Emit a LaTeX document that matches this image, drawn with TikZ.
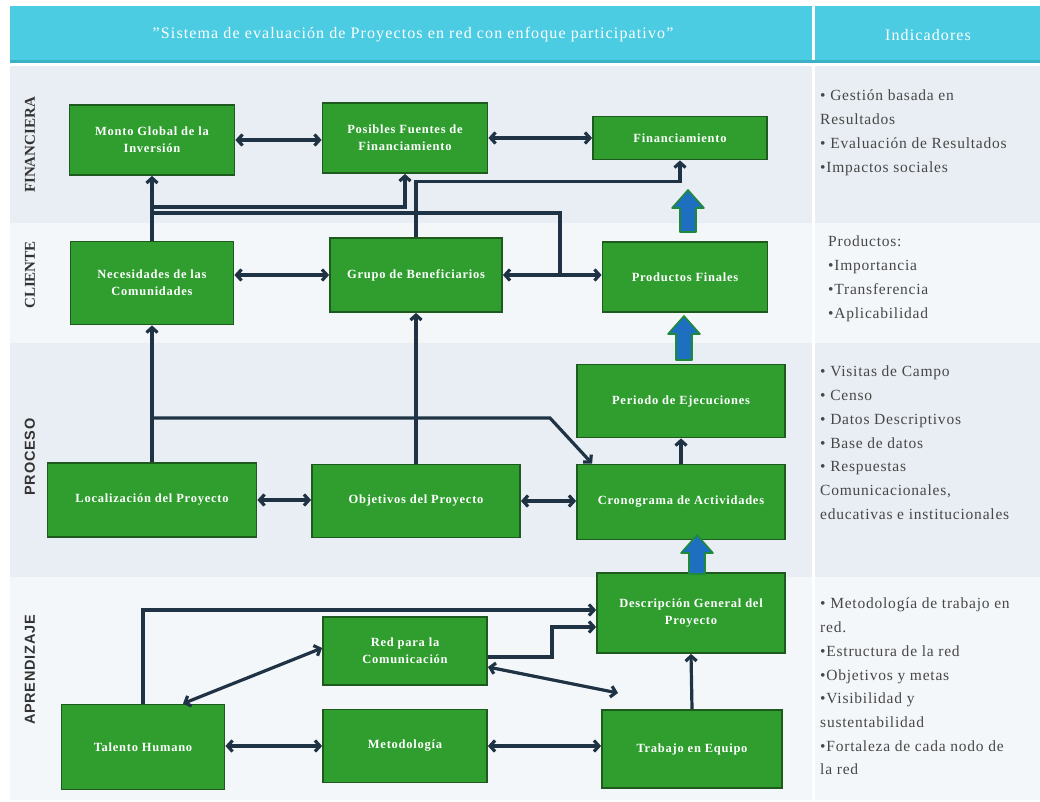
\documentclass[tikz,border=0pt]{standalone}
\usepackage{fontspec}
\setmainfont{Liberation Serif}
\setsansfont{Liberation Sans}
\usetikzlibrary{positioning,arrows.meta,calc}
\definecolor{hdr}{HTML}{4BCCE2}
\definecolor{hdredge}{HTML}{3AAFC5}
\definecolor{banda}{HTML}{E9EEF4}
\definecolor{bandb}{HTML}{F4F7FA}
\definecolor{boxgreen}{HTML}{2F9E2F}
\definecolor{boxedge}{HTML}{1E5A1E}
\definecolor{wirec}{HTML}{1F3344}
\definecolor{fatblue}{HTML}{1F6FC0}
\definecolor{fatedge}{HTML}{1E8A3A}
\definecolor{indtext}{HTML}{474747}
\tikzset{
    block/.style = {
        draw=boxedge,
        fill=boxgreen,
        shape=rectangle,
        line width=1.8pt,
        text=white,
        align=center,
        inner sep=2pt,
        font=\bfseries\fontsize{12.5}{17}\selectfont\addfontfeature{LetterSpace=6}
    },
    wire/.style = {
        draw=wirec,
        line width=3.2pt
    },
    tag/.style = {
        rotate=90,
        text=black!80
    },
    ind/.style = {
        anchor=north west,
        align=left,
        text=indtext,
        inner sep=0pt,
        font=\fontsize{15.5}{23.7}\selectfont\addfontfeature{LetterSpace=5}
    },
    fat/.style = {
        draw=fatedge,
        fill=fatblue,
        line width=1.6pt,
        line join=round
    },
    >={Straight Barb[length=5pt,width=11pt]},
}

\begin{document}
\begin{tikzpicture}[x=1pt,y=-1pt]
                \useasboundingbox (0,0) rectangle (1040,802);
                % bands
                \fill[hdr] (10,6) rectangle (812,63);
                \fill[hdr] (815,6) rectangle (1040,63);
                \fill[hdredge] (10,60) rectangle (1040,63);
                \fill[banda] (10,66) rectangle (812,223);
                \fill[banda] (815,66) rectangle (1040,223);
                \fill[bandb] (10,223) rectangle (812,343);
                \fill[bandb] (815,223) rectangle (1040,343);
                \fill[banda] (10,343) rectangle (812,577);
                \fill[banda] (815,343) rectangle (1040,577);
                \fill[bandb] (10,577) rectangle (812,800);
                \fill[bandb] (815,577) rectangle (1040,800);

                \node[text=white, font=\fontsize{16}{18}\selectfont\addfontfeature{LetterSpace=7}] (title) at (413,35) {"Sistema de evaluación de Proyectos en red con enfoque participativo"};
                \node[text=white, font=\fontsize{16}{18}\selectfont\addfontfeature{LetterSpace=7}] (indic) at (928,35) {Indicadores};

                \node[tag, font=\bfseries\fontsize{15}{16}\selectfont] (lfin) at (30,145) {FINANCIERA};
                \node[tag, font=\bfseries\fontsize{15}{16}\selectfont] (lcli) at (30,275) {CLIENTE};
                \node[tag, font=\sffamily\bfseries\fontsize{14.5}{16}\selectfont\addfontfeature{LetterSpace=5}] (lpro) at (30,457) {PROCESO};
                \node[tag, font=\sffamily\bfseries\fontsize{14.5}{16}\selectfont\addfontfeature{LetterSpace=5}] (lapr) at (30,670) {APRENDIZAJE};

                % boxes
                \node[block, minimum width=165, minimum height=70] (monto) at (152,140) {Monto Global de la\\Inversión};
                \node[block, minimum width=165, minimum height=70] (fuentes) at (405,138) {Posibles Fuentes de\\Financiamiento};
                \node[block, minimum width=174, minimum height=43] (finan) at (680,138) {Financiamiento};
                \node[block, minimum width=163, minimum height=83] (neces) at (152,283) {Necesidades de las\\Comunidades};
                \node[block, minimum width=172, minimum height=74] (grupo) at (416,275) {Grupo de Beneficiarios};
                \node[block, minimum width=165, minimum height=70] (prod) at (685,277) {Productos Finales};
                \node[block, minimum width=208, minimum height=73] (periodo) at (681,401) {Periodo de Ejecuciones};
                \node[block, minimum width=209, minimum height=74] (local) at (152,500) {Localización del Proyecto};
                \node[block, minimum width=208, minimum height=73] (objet) at (416,501) {Objetivos del Proyecto};
                \node[block, minimum width=208, minimum height=75] (crono) at (681,502) {Cronograma de Actividades};
                \node[block, minimum width=188, minimum height=80] (descr) at (691,613) {Descripción General del\\Proyecto};
                \node[block, minimum width=164, minimum height=68] (redcom) at (405,651) {Red para la\\Comunicación};
                \node[block, minimum width=163, minimum height=85] (talento) at (143,747) {Talento Humano};
                \node[block, minimum width=164, minimum height=73] (metod) at (405,746) {Metodología};
                \node[block, minimum width=180, minimum height=78] (trabajo) at (692,749) {Trabajo en Equipo};

                % junctions
                \coordinate (jf1) at (152,207);
                \coordinate (jf2) at (152,213);
                \coordinate (jp) at (560,275);
                \coordinate (jl) at (152,418);
                \coordinate (jb) at (550,418);
                \coordinate (jd) at (552,640);
                \coordinate (tq) at (618,693);

                % financiera / cliente
                \path[wire, <->] (monto.east) -- (fuentes.west |- monto.east);
                \path[wire, <->] (fuentes.east) -- (finan.west |- fuentes.east);
                \path[wire, ->] (neces.north) -- (monto.south);
                \path[wire, ->] (jf1) -| (fuentes.south);
                \path[wire, -] (jf2) -| (jp);
                \path[wire, ->] (grupo.north) |- ([yshift=-21pt]finan.south) -- (finan.south);
                \path[wire, <->] (neces.east |- grupo.west) -- (grupo.west);
                \path[wire, <->] (grupo.east) -- (prod.west |- grupo.east);

                % proceso
                \path[wire, ->] (local.north) -- (neces.south);
                \path[wire, ->] (jl) -- (jb) -- ([xshift=16pt]crono.north west);
                \path[wire, ->] (objet.north) -- (grupo.south);
                \path[wire, ->] (crono.north) -- (periodo.south);
                \path[wire, <->] (local.east) -- (objet.west |- local.east);
                \path[wire, <->] (objet.east) -- (crono.west |- objet.east);

                % aprendizaje
                \path[wire, ->] (talento.north) |- ([yshift=3pt]descr.west);
                \path[wire, ->] ([yshift=-6pt]redcom.east) -| (jd) |- ([yshift=-14pt]descr.west);
                \path[wire, <->] ([yshift=-16pt]redcom.east) -- (tq);
                \path[wire, <->] ([xshift=40pt]talento.north) -- ([yshift=3pt]redcom.west);
                \path[wire, <->] (talento.east |- metod.west) -- (metod.west);
                \path[wire, <->] (metod.east) -- (trabajo.west |- metod.east);
                \path[wire, ->] (trabajo.north) -- (descr.south);

                % big blue arrows
                \foreach \x/\yt/\yb in {688/190/232, 684/316/360, 697/535/574}
                    \draw[fat] (\x-8,\yb) -- (\x-8,\yt+18) -- (\x-16,\yt+18) -- (\x,\yt)
                        -- (\x+16,\yt+18) -- (\x+8,\yt+18) -- (\x+8,\yb) -- cycle;

                % indicadores
                \node[ind] (ifin) at (820,90) {• Gestión basada en\\Resultados\\• Evaluación de Resultados\\•Impactos sociales};
                \node[ind] (icli) at (828,236) {Productos:\\•Importancia\\•Transferencia\\•Aplicabilidad};
                \node[ind] (ipro) at (820,366) {• Visitas de Campo\\• Censo\\• Datos Descriptivos\\• Base de datos\\• Respuestas\\Comunicacionales,\\educativas e institucionales};
                \node[ind] (iapr) at (820,598) {• Metodología de trabajo en\\red.\\•Estructura de la red\\•Objetivos y metas\\•Visibilidad y\\sustentabilidad\\•Fortaleza de cada nodo de\\la red};
            \end{tikzpicture}
\end{document}
